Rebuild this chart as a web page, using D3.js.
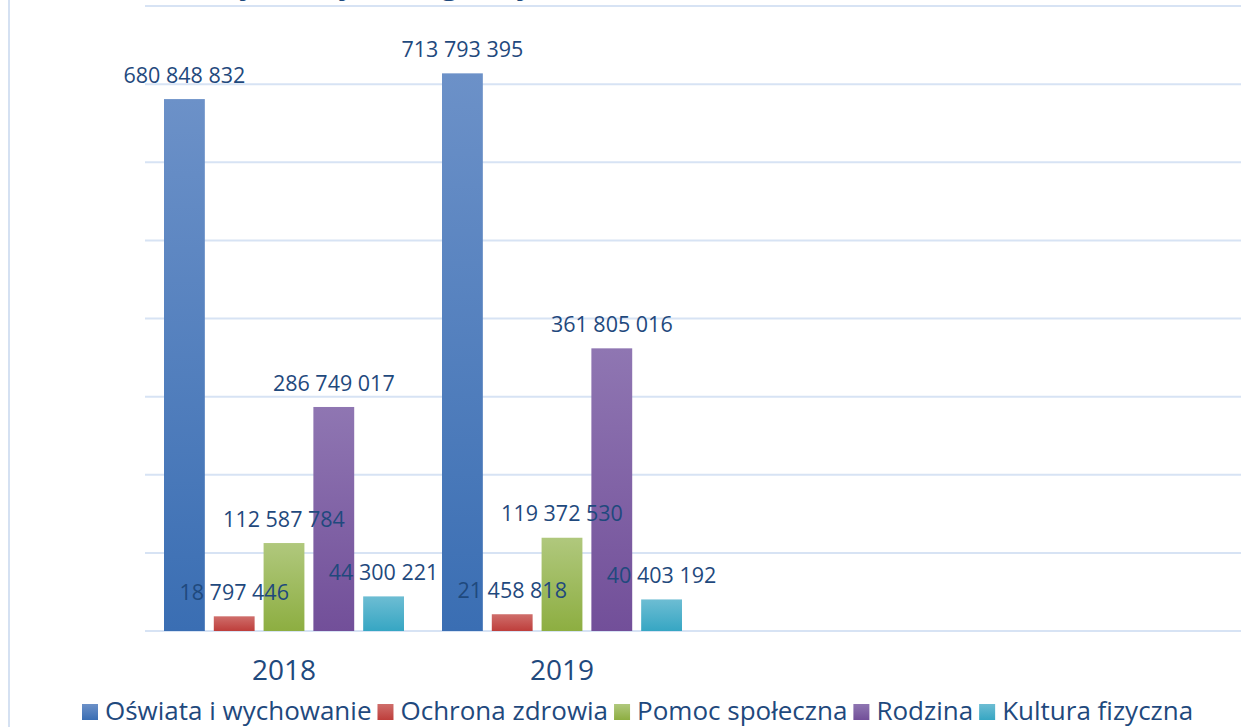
<!DOCTYPE html>
<html>
<head>
<meta charset="utf-8">
<script src="https://cdn.jsdelivr.net/npm/d3@7"></script>
<style>
  body { margin: 0; background: #fff; }
  svg { display: block; font-family: "Open Sans", "Noto Sans", sans-serif; }
</style>
</head>
<body>
<div id="chart"></div>
<script>
// lata (dwie puste kategorie na końcu, jak w oryginale)
let years = ["2018", "2019", "_a", "_b"];
let series = ["Oświata i wychowanie", "Ochrona zdrowia", "Pomoc społeczna", "Rodzina", "Kultura fizyczna"];
let values2018 = [680848832, 18797446, 112587784, 286749017, 44300221];
let values2019 = [713793395, 21458818, 119372530, 361805016, 40403192];
let yTicks = [0, 100e6, 200e6, 300e6, 400e6, 500e6, 600e6, 700e6, 800e6];
let colorsTop = ["#6C91C8", "#CF6E6B", "#B0C87D", "#8F76B2", "#6DBDD3"];
let colorsBottom = ["#3A6EB3", "#BE3E3B", "#8DAE41", "#724F99", "#36A6C3"];

let width = 1241, height = 727;
let textColor = "#1F497D";

let svg = d3.select("#chart").append("svg")
    .attr("width", width)
    .attr("height", height);

// gradienty słupków
let defs = svg.append("defs");
series.forEach((s, i) => {
    let grad = defs.append("linearGradient")
        .attr("id", "grad" + i)
        .attr("x1", 0).attr("y1", 0).attr("x2", 0).attr("y2", 1);
    grad.append("stop").attr("offset", "0%").attr("stop-color", colorsTop[i]);
    grad.append("stop").attr("offset", "100%").attr("stop-color", colorsBottom[i]);
});

// ramka po lewej
svg.append("line")
    .attr("x1", 9).attr("x2", 9)
    .attr("y1", 0).attr("y2", height)
    .attr("stroke", "#D5E1F2")
    .attr("stroke-width", 2);

let x = d3.scaleBand()
    .domain(years)
    .range([145, 1257]);

let x1 = d3.scaleBand()
    .domain(series)
    .range([19, x.bandwidth() - 19])
    .paddingInner(0.18);

let y = d3.scaleLinear()
    .domain([0, 800e6])
    .range([631, 6]);

// siatka
svg.append("g")
    .selectAll("line")
    .data(yTicks)
    .enter().append("line")
    .attr("x1", 145)
    .attr("x2", width)
    .attr("y1", d => y(d))
    .attr("y2", d => y(d))
    .attr("stroke", "#D7E3F4")
    .attr("stroke-width", 2);

// tytuł (w oryginale prawie cały poza kadrem)
svg.append("text")
    .text("(w złotych)  Wydatki gminy w latach 2018 – 2019")
    .attr("x", 140)
    .attr("y", -6)
    .attr("fill", textColor)
    .attr("font-weight", "bold")
    .attr("font-size", 30);

let data = [
    { year: "2018", values: values2018 },
    { year: "2019", values: values2019 }
];

let groups = svg.selectAll(".grp")
    .data(data)
    .enter().append("g")
    .attr("class", "grp")
    .attr("transform", d => `translate(${x(d.year)},0)`);

groups.selectAll("rect")
    .data(d => d.values.map((v, i) => ({ name: series[i], v: v, i: i })))
    .enter().append("rect")
    .attr("x", d => x1(d.name))
    .attr("width", x1.bandwidth())
    .attr("y", d => y(d.v))
    .attr("height", d => y(0) - y(d.v))
    .attr("fill", d => `url(#grad${d.i})`);

let fmt = v => d3.format(",")(v).replace(/,/g, " ");

// etykiety wartości
groups.selectAll(".lab")
    .data(d => d.values.map((v, i) => ({ name: series[i], v: v })))
    .enter().append("text")
    .attr("class", "lab")
    .text(d => fmt(d.v))
    .attr("x", d => x1(d.name) + x1.bandwidth() / 2)
    .attr("y", d => y(d.v) - 24)
    .attr("dy", "0.35em")
    .attr("text-anchor", "middle")
    .attr("fill", textColor)
    .attr("font-size", 21.5);

// osie - lata
svg.selectAll(".yr")
    .data(years.filter(d => d[0] != "_"))
    .enter().append("text")
    .text(d => d)
    .attr("x", d => x(d) + x.bandwidth() / 2)
    .attr("y", 670)
    .attr("dy", "0.35em")
    .attr("text-anchor", "middle")
    .attr("fill", textColor)
    .attr("font-size", 28);

// legenda
let legend = svg.append("g").attr("transform", "translate(82,711)");
let lx = 0;
series.forEach((s, i) => {
    legend.append("rect")
        .attr("x", lx)
        .attr("y", -7)
        .attr("width", 16)
        .attr("height", 16)
        .attr("fill", `url(#grad${i})`);
    let t = legend.append("text")
        .text(s)
        .attr("x", lx + 23)
        .attr("y", 0)
        .attr("dy", "0.35em")
        .attr("fill", textColor)
        .attr("font-size", 26);
    lx += 23 + t.node().getComputedTextLength() + 6;
});
</script>
</body>
</html>
